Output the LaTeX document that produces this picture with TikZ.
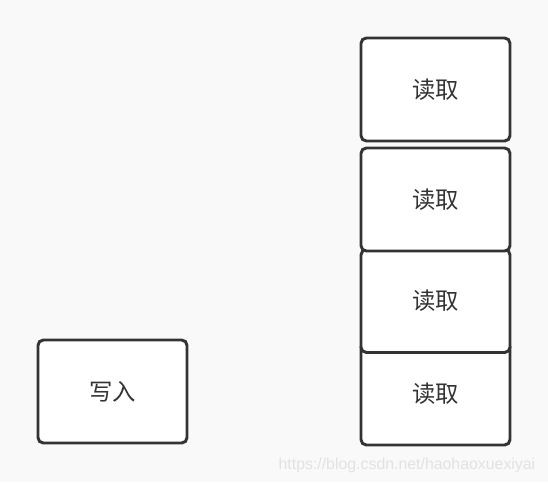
\documentclass[tikz,border=0pt]{standalone}
\usepackage{fontspec}
\newfontfamily\cjk{Noto Sans CJK SC}
\setsansfont{Liberation Sans}
\definecolor{bg}{HTML}{F9F9F9}
\definecolor{ink}{HTML}{333333}
\definecolor{mark}{HTML}{E2E2E2}
\newlength{\pxu}
\setlength{\pxu}{0.75pt}
\tikzset{
  box/.style={draw=ink, fill=white, line width=2.2pt, rounded corners=4pt,
    minimum width=149\pxu, minimum height=103\pxu, inner sep=0pt,
    font=\cjk\fontsize{17.5}{20}\selectfont, text=ink}
}
\begin{document}
\begin{tikzpicture}[x=0.75pt,y=-0.75pt]
  \fill[bg] (0,0) rectangle (548,482);
  \useasboundingbox (0,0) rectangle (548,482);
  % stacked reads, bottom one first
  \node[box] (read4) at (435.5,393.5) {读取};
  \node[box] (read3) at (435.5,301) {读取};
  \node[box] (read2) at (435.5,199.5) {读取};
  \node[box] (read1) at (435.5,89.5) {读取};
  \node[box] (write) at (112.5,391.5) {写入};
  \node[font=\sffamily\fontsize{11.9}{14}\selectfont, text=mark, anchor=east] (url) at (540,465) {https://blog.csdn.net/haohaoxuexiyai};
\end{tikzpicture}
\end{document}
